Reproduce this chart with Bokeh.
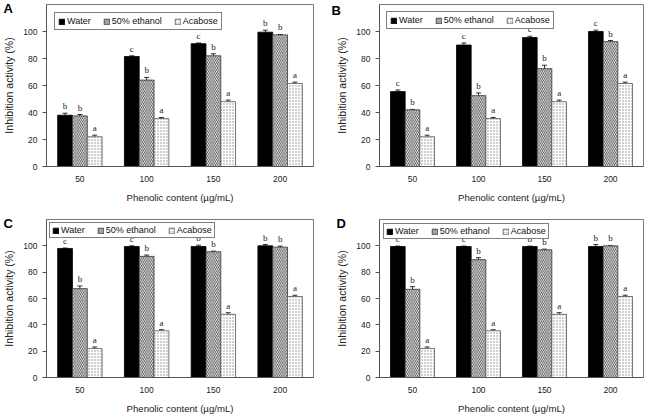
from bokeh.plotting import figure
from bokeh.layouts import gridplot
from bokeh.models import ColumnDataSource, FactorRange, FixedTicker, Whisker, TeeHead
from bokeh.transform import dodge
from bokeh.embed import file_html
from bokeh.resources import INLINE

# Phenolic concentrations (µg/mL) and extract series
groups = ["50", "100", "150", "200"]
series = ["Water", "50% ethanol", "Acabose"]

# Acarbose reference (same in every panel)
acabose = [22, 35.5, 48, 61.5]
acabose_sd = [1.2, 0.8, 1.2, 1.0]
acabose_letters = ["a", "a", "a", "a"]

# Panel A
a_water = [38, 81.5, 91, 99.5]
a_water_sd = [1.5, 0.5, 0.5, 1.5]
a_water_letters = ["b", "c", "c", "b"]
a_ethanol = [37.5, 64, 82, 97.5]
a_ethanol_sd = [1.0, 2.0, 1.5, 0.3]
a_ethanol_letters = ["b", "b", "b", "b"]

# Panel B
b_water = [55.5, 90, 95.5, 100]
b_water_sd = [1.2, 1.5, 1.0, 1.0]
b_water_letters = ["c", "c", "c", "c"]
b_ethanol = [42, 52.5, 72.5, 92.5]
b_ethanol_sd = [0.3, 2.0, 2.5, 0.8]
b_ethanol_letters = ["b", "b", "b", "b"]

# Panel C
c_water = [98, 99.5, 99.5, 100]
c_water_sd = [0.3, 0.5, 1.0, 1.0]
c_water_letters = ["c", "c", "b", "b"]
c_ethanol = [67.5, 92, 95.5, 99]
c_ethanol_sd = [2.0, 1.0, 0.5, 0.8]
c_ethanol_letters = ["b", "b", "b", "b"]

# Panel D
d_water = [99.5, 99.5, 99.5, 99.5]
d_water_sd = [0.3, 0.3, 0.3, 1.5]
d_water_letters = ["c", "c", "b", "b"]
d_ethanol = [67, 89.5, 97, 100]
d_ethanol_sd = [2.0, 1.5, 0.5, 0.3]
d_ethanol_letters = ["b", "b", "b", "b"]

y_ticks = [0, 20, 40, 60, 80, 100]

FONT = "Liberation Sans"
BAR_W = 0.222
OFFSETS = [-BAR_W, 0.0, BAR_W]

STYLES = [
    dict(fill_color="black", line_color="black"),
    dict(fill_color="white", line_color="#333333", hatch_pattern="\\",
         hatch_color="#3c3c3c", hatch_scale=3.6, hatch_weight=0.9),
    dict(fill_color="white", line_color="#555555", hatch_pattern=".",
         hatch_color="#8a8a8a", hatch_scale=3.0, hatch_weight=1.0),
]


def panel(tag, water, water_sd, water_letters, ethanol, ethanol_sd,
          ethanol_letters, width, height, borders, legend_margin,
          legend_padding, tag_dx, tag_dy):
    left, right, top, bottom = borders
    p = figure(x_range=FactorRange(*groups), y_range=(0, 120),
               width=width, height=height, output_backend="svg",
               toolbar_location=None, tools="",
               min_border_left=left, min_border_right=right,
               min_border_top=top, min_border_bottom=bottom)
    p.background_fill_color = "white"
    p.border_fill_color = "white"
    p.outline_line_color = "#7a7a7a"
    p.outline_line_width = 1
    p.xgrid.grid_line_color = None
    p.ygrid.grid_line_color = None

    data = [(water, water_sd, water_letters),
            (ethanol, ethanol_sd, ethanol_letters),
            (acabose, acabose_sd, acabose_letters)]

    for i, (vals, sd, lets) in enumerate(data):
        src = ColumnDataSource(dict(
            x=groups, top=vals,
            lower=[v - s for v, s in zip(vals, sd)],
            upper=[v + s for v, s in zip(vals, sd)],
            lab=lets))
        xs = dodge("x", OFFSETS[i], range=p.x_range)
        p.vbar(x=xs, top="top", width=BAR_W, source=src,
               line_width=0.8, legend_label=series[i], **STYLES[i])
        p.add_layout(Whisker(
            source=src, base=xs, lower="lower", upper="upper",
            line_color="black", line_width=0.8,
            upper_head=TeeHead(size=5, line_color="black", line_width=0.8),
            lower_head=TeeHead(size=5, line_color="black", line_width=0.8)))
        # significance letters drawn above the legend box
        p.text(x=xs, y="upper", text="lab", source=src, level="overlay",
               text_align="center", text_baseline="bottom", y_offset=-2,
               text_font=FONT, text_font_size="9px", text_color="#222222")

    # axes
    p.yaxis.ticker = FixedTicker(ticks=y_ticks)
    p.yaxis.axis_label = "Inhibition activity (%)"
    p.xaxis.axis_label = "Phenolic content (µg/mL)"
    for ax in (p.xaxis[0], p.yaxis[0]):
        ax.axis_label_text_font = FONT
        ax.axis_label_text_font_style = "normal"
        ax.axis_label_text_color = "#222222"
        ax.major_label_text_font = FONT
        ax.major_label_text_font_size = "8.5px"
        ax.major_label_text_color = "#222222"
        ax.axis_line_color = "#555555"
        ax.minor_tick_line_color = None
    p.xaxis.axis_label_text_font_size = "9.6px"
    p.yaxis.axis_label_text_font_size = "10.5px"
    p.xaxis.major_tick_line_color = None
    p.xaxis.major_tick_out = 0
    p.xaxis.major_label_standoff = 9
    p.xaxis.axis_label_standoff = 7
    p.yaxis.major_tick_line_color = "#555555"
    p.yaxis.major_tick_in = 0
    p.yaxis.major_tick_out = 4
    p.yaxis.major_label_standoff = 5
    p.yaxis.axis_label_standoff = 5

    # legend
    lg = p.legend[0]
    lg.location = "top_left"
    lg.orientation = "horizontal"
    lg.margin = legend_margin
    lg.padding = legend_padding
    lg.spacing = 12
    lg.label_standoff = 2
    lg.glyph_width = 7
    lg.glyph_height = 7
    lg.label_height = 8
    lg.label_text_font = FONT
    lg.label_text_font_size = "9px"
    lg.label_text_color = "#111111"
    lg.border_line_color = "black"
    lg.border_line_width = 1
    lg.background_fill_alpha = 1.0

    # panel letter in the top-left corner (title pulled into the corner)
    p.title.text = tag
    p.title.align = "left"
    p.title.vertical_align = "bottom"
    p.title.offset = tag_dx
    p.title.standoff = tag_dy
    p.title.text_font = FONT
    p.title.text_font_style = "bold"
    p.title.text_font_size = "13px"
    p.title.text_color = "black"
    return p


pa = panel("A", a_water, a_water_sd, a_water_letters, a_ethanol, a_ethanol_sd,
           a_ethanol_letters, 327, 205, (43, 14, 4, 34), 8, 3, -43, -23)
pb = panel("B", b_water, b_water_sd, b_water_letters, b_ethanol, b_ethanol_sd,
           b_ethanol_letters, 327, 205, (52, 11, 4, 34), 7, 3, -48, -27)
pc = panel("C", c_water, c_water_sd, c_water_letters, c_ethanol, c_ethanol_sd,
           c_ethanol_letters, 327, 211, (43, 14, 14, 31), 3, 2, -43, -23)
pd = panel("D", d_water, d_water_sd, d_water_letters, d_ethanol, d_ethanol_sd,
           d_ethanol_letters, 327, 211, (52, 9, 14, 29), 4, 2, -43, -23)

grid = gridplot([[pa, pb], [pc, pd]], toolbar_location=None)

open("out.html", "w").write(file_html(grid, INLINE))
